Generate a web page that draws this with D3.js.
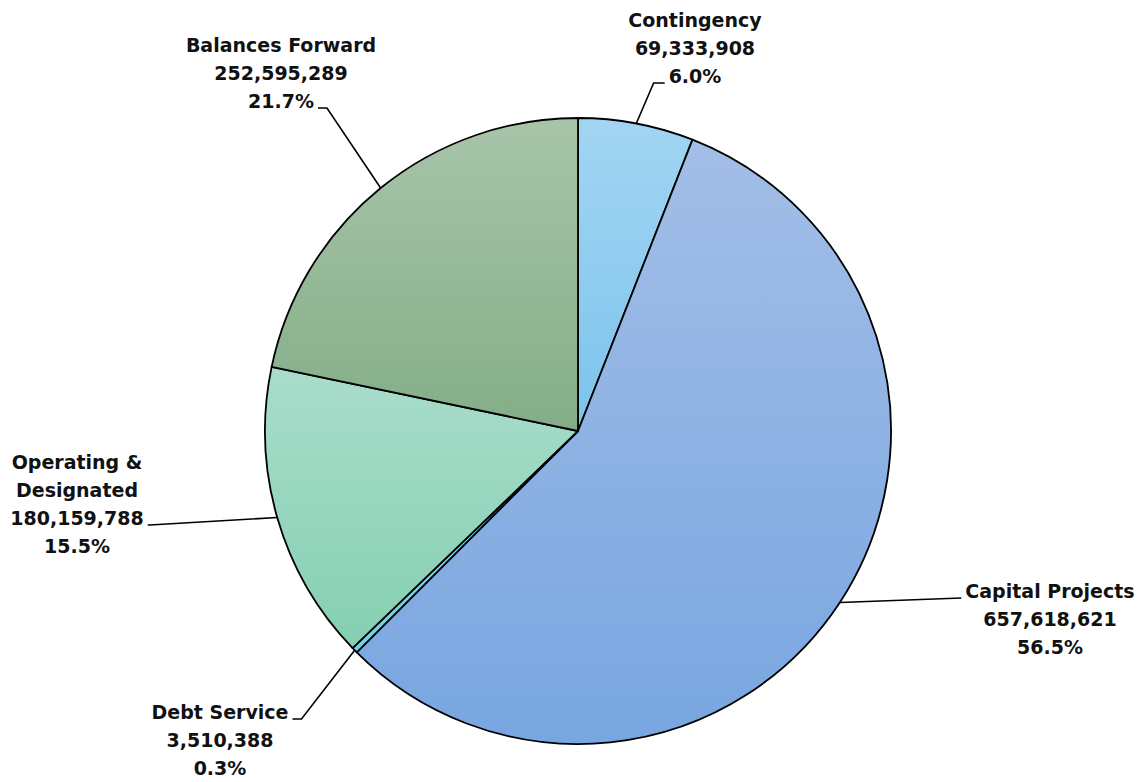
<!DOCTYPE html>
<html>
<head>
<meta charset="utf-8">
<script src="https://cdn.jsdelivr.net/npm/d3@7"></script>
<style>
  html, body { margin: 0; padding: 0; background: #fff; }
  svg text { font-family: "DejaVu Sans", sans-serif; font-weight: 700; font-size: 19px; fill: #111; }
</style>
</head>
<body>
<svg id="chart" width="1146" height="782"></svg>
<script>
const categories = ["Contingency", "Capital Projects", "Debt Service", "Operating & Designated", "Balances Forward"];
const amounts = [69333908, 657618621, 3510388, 180159788, 252595289];
const percentLabels = ["6.0%", "56.5%", "0.3%", "15.5%", "21.7%"];
const labelLines = [["Contingency"], ["Capital Projects"], ["Debt Service"], ["Operating &", "Designated"], ["Balances Forward"]];
const colorTop = ["#a3d5f3", "#a3bee7", "#8fdcee", "#a9ddcb", "#a8c5a9"];
const colorBottom = ["#7cc3ec", "#78a6e0", "#74d0e6", "#85cfb2", "#83ad87"];

const svg = d3.select("#chart");
const cx = 578, cy = 431, R = 313;

const defs = svg.append("defs");
categories.forEach((c, i) => {
  const g = defs.append("linearGradient").attr("id", "grad" + i)
    .attr("x1", 0).attr("y1", 0).attr("x2", 0).attr("y2", 1);
  g.append("stop").attr("offset", "0%").attr("stop-color", colorTop[i]);
  g.append("stop").attr("offset", "100%").attr("stop-color", colorBottom[i]);
});

const pie = d3.pie().sort(null).value(d => d)(amounts);
const arc = d3.arc().innerRadius(0).outerRadius(R);

const g = svg.append("g").attr("transform", `translate(${cx},${cy})`);
g.selectAll("path.slice").data(pie).join("path")
  .attr("class", "slice")
  .attr("d", arc)
  .attr("fill", (d, i) => `url(#grad${i})`)
  .attr("stroke", "#000")
  .attr("stroke-width", 1.8)
  .attr("stroke-linejoin", "round");

// label layout: center x, first baseline y, which line the leader attaches to, side, elbow length
const fmt = d3.format(",");
const layout = [
  { x: 695, y: 27, line: 2, side: "left", elbow: 11 },
  { x: 1050, y: 598, line: 0, side: "left", elbow: 0 },
  { x: 220, y: 719, line: 0, side: "right", elbow: 9 },
  { x: 77, y: 469, line: 2, side: "right", elbow: 2 },
  { x: 281, y: 52, line: 2, side: "right", elbow: 9 }
];
const lh = 28;

pie.forEach((d, i) => {
  const mid = (d.startAngle + d.endAngle) / 2;
  const px = cx + R * Math.sin(mid), py = cy - R * Math.cos(mid);
  const L = layout[i];
  const lines = labelLines[i].concat([fmt(amounts[i]), percentLabels[i]]);
  const t = svg.append("text").attr("text-anchor", "middle");
  const spans = lines.map((s, k) =>
    t.append("tspan").attr("x", L.x).attr("y", L.y + k * lh).text(s));
  const w = spans[L.line].node().getComputedTextLength();
  const ly = L.y + L.line * lh;
  const ex = L.side === "left" ? L.x - w / 2 - 4 : L.x + w / 2 + 4;
  const elx = L.side === "left" ? ex - L.elbow : ex + L.elbow;
  svg.insert("polyline", "text")
    .attr("points", [[px, py], [elx, ly], [ex, ly]].map(p => p.join(",")).join(" "))
    .attr("fill", "none").attr("stroke", "#000").attr("stroke-width", 1.6);
});
</script>
</body>
</html>
